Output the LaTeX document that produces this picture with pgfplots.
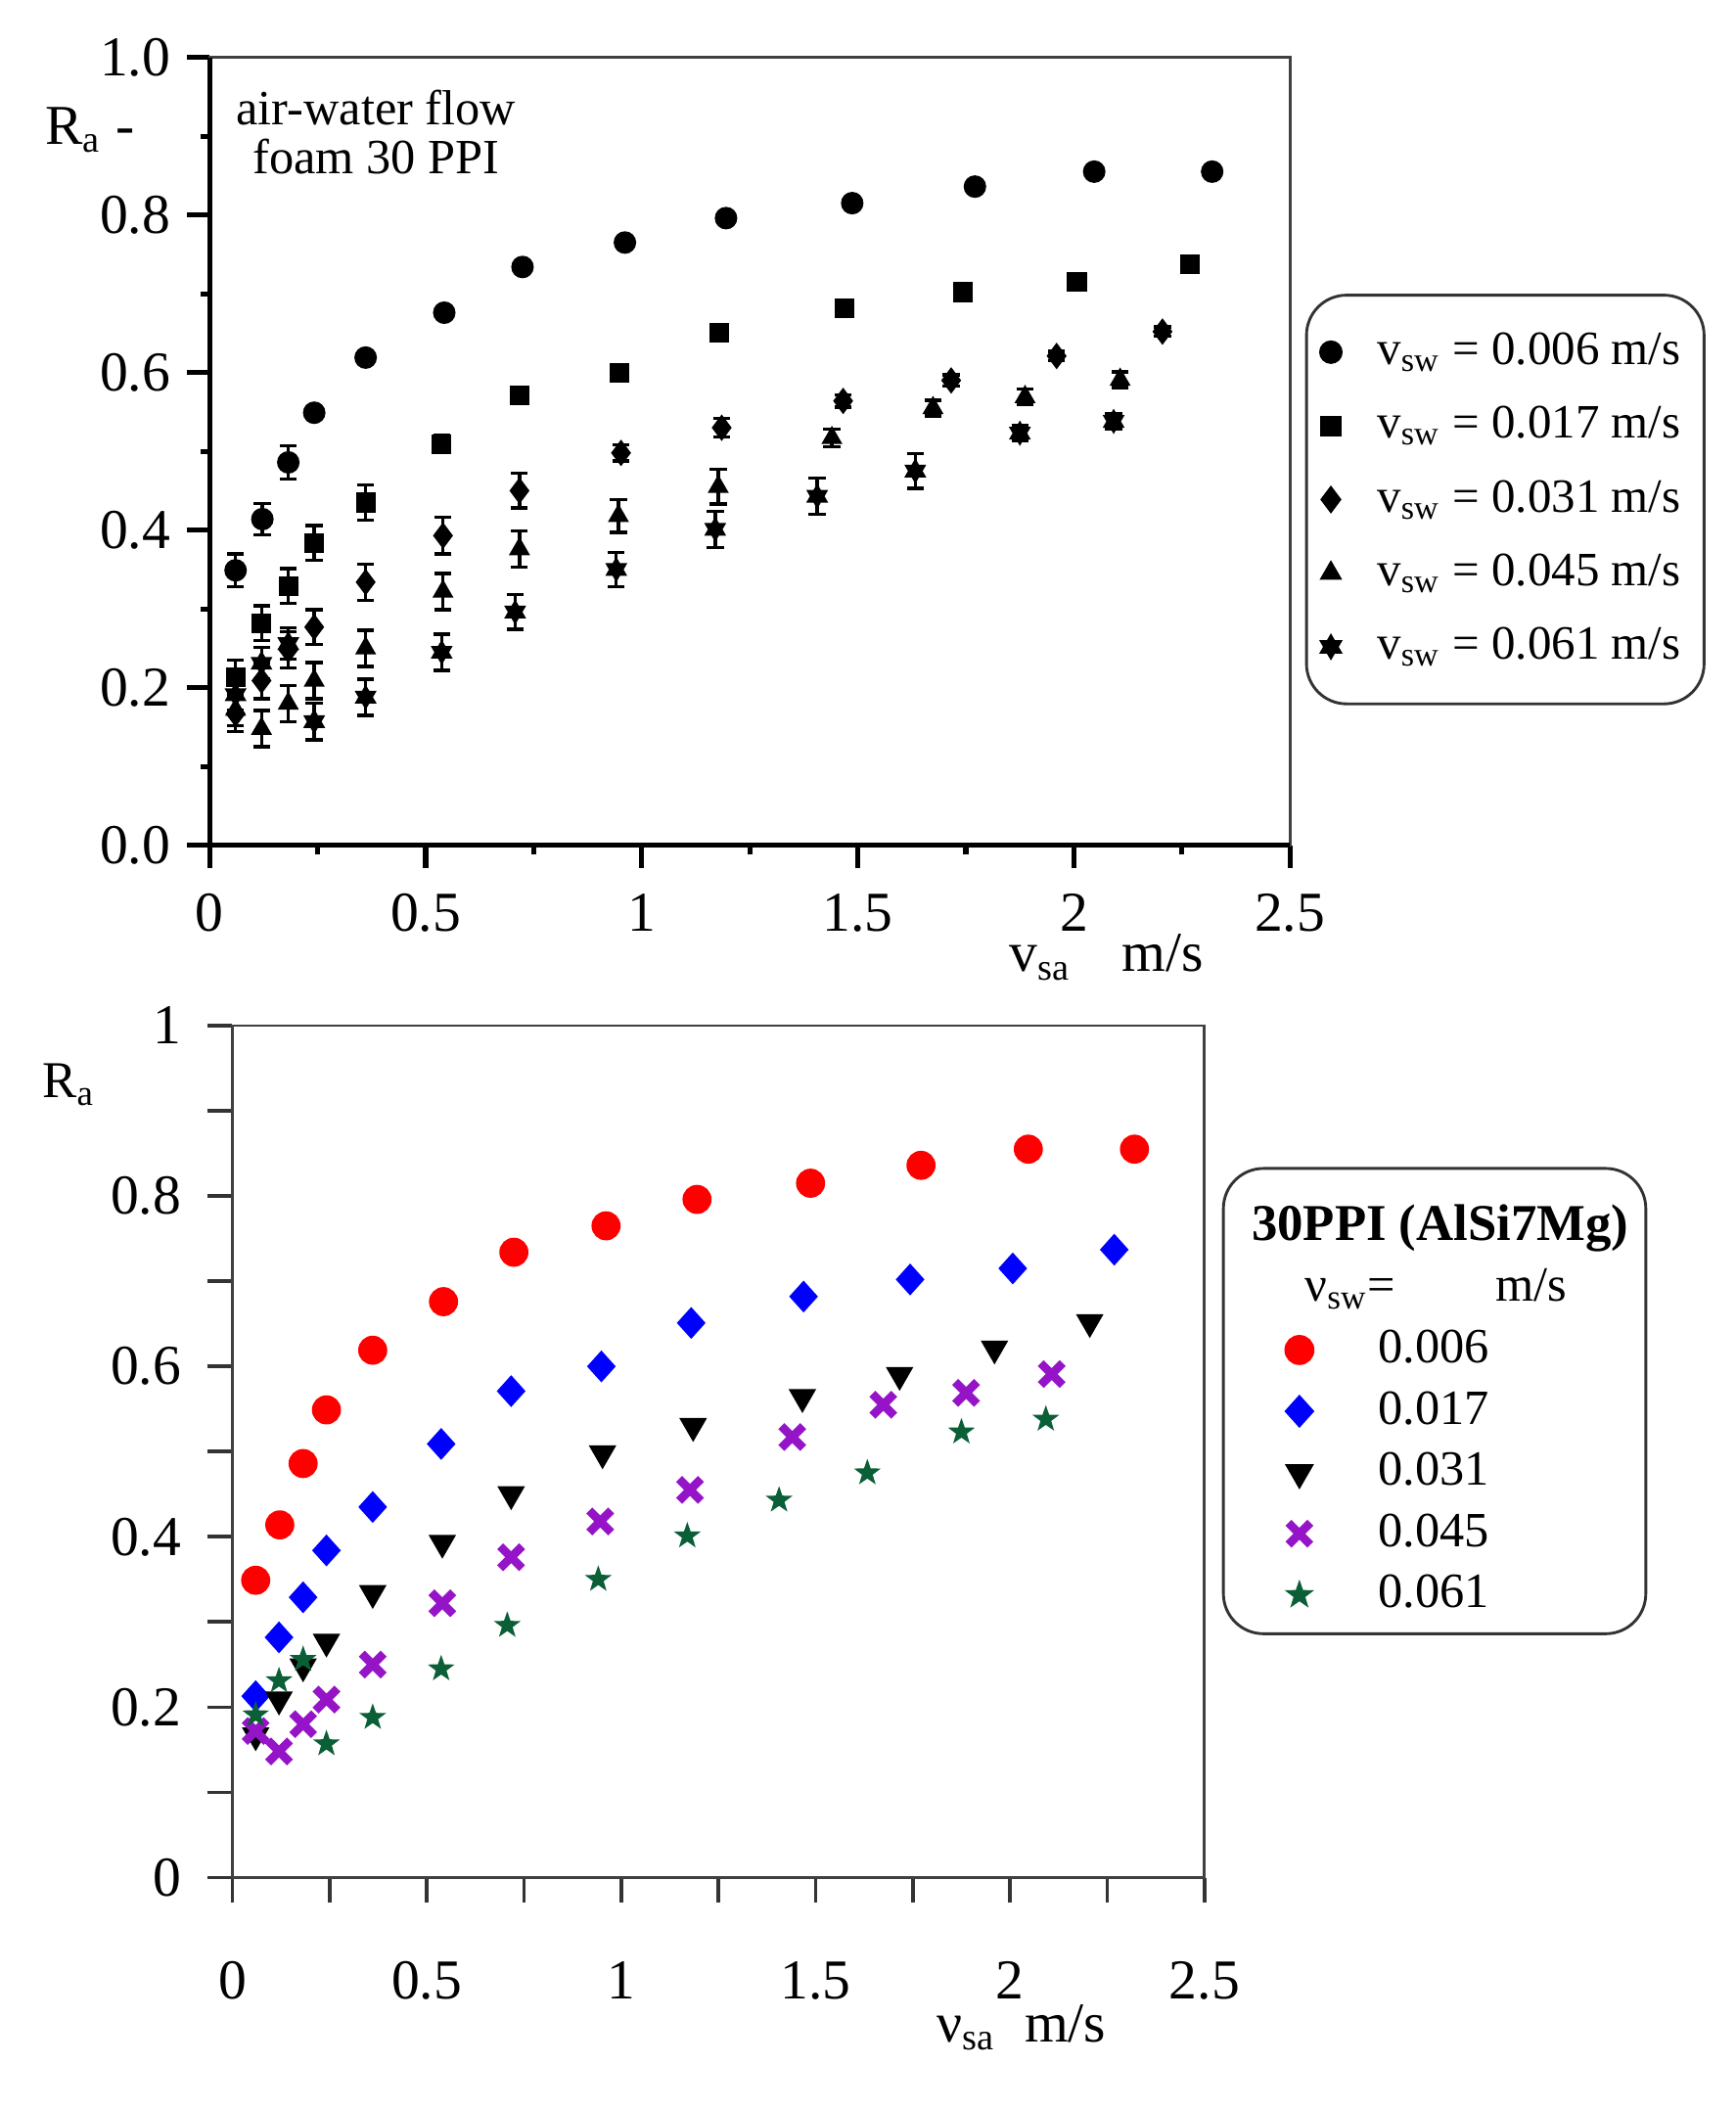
\documentclass[border=0pt]{standalone}
\usepackage{fontspec}
\setmainfont{Liberation Serif}
\usepackage{pgfplots}
\usepackage{pgfplotstable}
\pgfplotsset{compat=1.18}

\definecolor{ptred}{RGB}{255,0,0}
\definecolor{ptblue}{RGB}{0,0,255}
\definecolor{ptpurple}{RGB}{150,20,200}
\definecolor{ptgreen}{RGB}{10,95,55}

% filled six-pointed star (top panel, 0.061)
\pgfdeclareplotmark{hexstar}{%
  \pgfpathmoveto{\pgfpointpolar{90}{\pgfplotmarksize}}%
  \pgfpathlineto{\pgfpointpolar{210}{\pgfplotmarksize}}%
  \pgfpathlineto{\pgfpointpolar{330}{\pgfplotmarksize}}%
  \pgfpathclose
  \pgfpathmoveto{\pgfpointpolar{270}{\pgfplotmarksize}}%
  \pgfpathlineto{\pgfpointpolar{30}{\pgfplotmarksize}}%
  \pgfpathlineto{\pgfpointpolar{150}{\pgfplotmarksize}}%
  \pgfpathclose
  \pgfusepathqfillstroke}
% filled five-pointed star (bottom panel, 0.061)
\pgfdeclareplotmark{fivestar}{%
  \pgfpathmoveto{\pgfpointpolar{90}{\pgfplotmarksize}}%
  \pgfpathlineto{\pgfpointpolar{126}{0.4*\pgfplotmarksize}}%
  \pgfpathlineto{\pgfpointpolar{162}{\pgfplotmarksize}}%
  \pgfpathlineto{\pgfpointpolar{198}{0.4*\pgfplotmarksize}}%
  \pgfpathlineto{\pgfpointpolar{234}{\pgfplotmarksize}}%
  \pgfpathlineto{\pgfpointpolar{270}{0.4*\pgfplotmarksize}}%
  \pgfpathlineto{\pgfpointpolar{306}{\pgfplotmarksize}}%
  \pgfpathlineto{\pgfpointpolar{342}{0.4*\pgfplotmarksize}}%
  \pgfpathlineto{\pgfpointpolar{18}{\pgfplotmarksize}}%
  \pgfpathlineto{\pgfpointpolar{54}{0.4*\pgfplotmarksize}}%
  \pgfpathclose
  \pgfusepathqfillstroke}

% v_sa (m/s), R_a, error
\pgfplotstableread{
x y e
0.060 0.349 0.021
0.122 0.414 0.020
0.182 0.486 0.021
0.242 0.549 0.006
0.361 0.619 0.004
0.543 0.676 0.004
0.724 0.734 0.004
0.961 0.765 0.004
1.195 0.796 0.004
1.487 0.815 0.004
1.771 0.836 0.004
2.047 0.855 0.004
2.320 0.855 0.004
}\sA
\pgfplotstableread{
x y e
0.060 0.213 0.022
0.120 0.282 0.022
0.182 0.329 0.022
0.242 0.384 0.022
0.361 0.435 0.022
0.537 0.509 0.011
0.717 0.571 0.008
0.949 0.600 0.008
1.180 0.651 0.005
1.469 0.682 0.004
1.743 0.702 0.004
2.007 0.715 0.004
2.268 0.737 0.004
}\sB
\pgfplotstableread{
x y e
0.060 0.167 0.023
0.120 0.209 0.023
0.182 0.248 0.023
0.242 0.277 0.022
0.361 0.334 0.023
0.540 0.393 0.023
0.717 0.450 0.022
0.952 0.498 0.010
1.185 0.530 0.012
1.466 0.564 0.008
1.716 0.590 0.007
1.960 0.621 0.006
2.205 0.652 0.006
}\sC
\pgfplotstableread{
x y e
0.060 0.172 0.020
0.120 0.148 0.023
0.182 0.180 0.023
0.242 0.209 0.023
0.361 0.250 0.023
0.540 0.322 0.023
0.717 0.376 0.023
0.946 0.418 0.021
1.177 0.455 0.022
1.440 0.517 0.011
1.674 0.555 0.010
1.887 0.569 0.010
2.107 0.591 0.010
}\sD
\pgfplotstableread{
x y e
0.060 0.191 0.020
0.120 0.231 0.020
0.182 0.256 0.020
0.242 0.157 0.023
0.361 0.188 0.023
0.537 0.245 0.023
0.707 0.296 0.022
0.941 0.350 0.022
1.170 0.401 0.023
1.406 0.443 0.023
1.633 0.475 0.022
1.875 0.523 0.010
2.092 0.538 0.010
}\sE

\pgfplotsset{
  panel/.style={
    scale only axis, anchor=south west, clip=false,
    xmin=0, xmax=2.5, ymin=0, ymax=1,
    xtick={0,0.5,1,1.5,2,2.5}, minor xtick={0.25,0.75,1.25,1.75,2.25},
    ytick={0,0.2,0.4,0.6,0.8,1}, minor ytick={0.1,0.3,0.5,0.7,0.9},
    xtick pos=bottom, ytick pos=left, tick align=outside,
    ticklabel style={font=\fontsize{12}{14}\selectfont, /pgf/number format/assume math mode=true},
    legend cell align=left,
    legend image code/.code={\draw plot coordinates {(0cm,0cm)};},
  },
}

\begin{document}
\begin{tikzpicture}
\path[use as bounding box] (0,0) rectangle (13cm,15.8cm);

% ---------------- top panel ----------------
\begin{axis}[panel,
  at={(1.57cm,9.47cm)}, width=8.09cm, height=5.9cm,
  axis line style={line width=0.6pt, black!75},
  major tick length=0.17cm, minor tick length=0.07cm,
  tick style={line width=1.1pt, black},
  yticklabel style={/pgf/number format/.cd, fixed, fixed zerofill, precision=1},
  xticklabel style={yshift=-2pt},
  xlabel={v\textsubscript{sa}\hspace{0.9em}m/s},
  xlabel style={font=\fontsize{12}{14}\selectfont, at={(axis description cs:0.83,-0.142)}, anchor=center},
  legend style={at={(1.014,0.70)}, anchor=north west, draw=black!80, line width=0.6pt,
    rounded corners=0.3cm, font=\fontsize{10.2}{12}\selectfont, inner xsep=3pt, inner ysep=6pt,
    row sep=0.12cm, /tikz/every odd column/.style={column sep=0.2cm}},
  error bars/y dir=both, error bars/y explicit,
  error bars/error bar style={line width=0.7pt, black},
  error bars/error mark options={rotate=90, mark size=1.8pt, line width=0.7pt, black},
]
\draw[line width=1.1pt] (rel axis cs:0,1) -- (rel axis cs:0,0) -- (rel axis cs:1,0);
\addplot[only marks, mark=*, mark size=2.2pt, black] table[x=x, y=y, y error=e] {\sA};
\addlegendentry{v\textsubscript{sw} = 0.006 m/s}
\addplot[only marks, mark=square*, mark size=1.9pt, black] table[x=x, y=y, y error=e] {\sB};
\addlegendentry{v\textsubscript{sw} = 0.017 m/s}
\addplot[only marks, mark=diamond*, mark size=2.5pt, black] table[x=x, y=y, y error=e] {\sC};
\addlegendentry{v\textsubscript{sw} = 0.031 m/s}
\addplot[only marks, mark=triangle*, mark size=2.2pt, black] table[x=x, y=y, y error=e] {\sD};
\addlegendentry{v\textsubscript{sw} = 0.045 m/s}
\addplot[only marks, mark=hexstar, mark size=2.3pt, black] table[x=x, y=y, y error=e] {\sE};
\addlegendentry{v\textsubscript{sw} = 0.061 m/s}
\node[align=center, font=\fontsize{10.5}{10.5}\selectfont] at (axis cs:0.385,0.905) {air-water flow\\foam 30 PPI};
\node[font=\fontsize{12}{14}\selectfont] at (rel axis cs:-0.111,0.908) {R\textsubscript{a} -};
\end{axis}

% ---------------- bottom panel ----------------
\begin{axis}[panel,
  at={(1.74cm,1.74cm)}, width=7.28cm, height=6.38cm,
  axis line style={line width=0.6pt, black!75},
  major tick length=0.19cm, minor tick length=0.19cm,
  tick style={line width=0.8pt, black!80},
  xticklabel style={yshift=-9pt},
  yticklabel style={xshift=-2pt},
  xlabel={ν\textsubscript{sa}\hspace{0.5em}m/s},
  xlabel style={font=\fontsize{12}{14}\selectfont, at={(axis description cs:0.812,-0.176)}, anchor=center},
  legend style={at={(1.018,0.834)}, anchor=north west, draw=black!80, line width=0.6pt,
    rounded corners=0.3cm, font=\fontsize{10.5}{12}\selectfont, inner xsep=13.3pt, inner ysep=2pt,
    row sep=0.02cm, /tikz/every odd column/.style={column sep=0.42cm}},
]
\addlegendimage{empty legend}
\addlegendentry{\hspace*{-0.95cm}\fontsize{11}{13}\selectfont\rule{0pt}{0.40cm}\textbf{30PPI (AlSi7Mg)}\hspace*{-0.41cm}}
\addlegendimage{empty legend}
\addlegendentry{\hspace*{-0.55cm}ν\textsubscript{sw}=\hspace{0.75cm}m/s\rule[-0.45cm]{0pt}{0.45cm}}
\addplot[only marks, mark=*, mark size=2.9pt, ptred, mark options={fill=ptred}] table[x=x, y=y] {\sA};
\addlegendentry{0.006}
\addplot[only marks, mark=diamond*, mark size=3.1pt, ptblue, mark options={fill=ptblue, xscale=1.2}] table[x=x, y=y] {\sB};
\addlegendentry{0.017}
\addplot[only marks, mark=triangle*, mark size=3pt, black, mark options={rotate=180, fill=black}] table[x=x, y=y] {\sC};
\addlegendentry{0.031}
\addplot[only marks, mark=x, mark size=3.3pt, ptpurple, mark options={line width=1.8pt}] table[x=x, y=y] {\sD};
\addlegendentry{0.045}
\addplot[only marks, mark=fivestar, mark size=2.4pt, ptgreen, mark options={fill=ptgreen}] table[x=x, y=y] {\sE};
\addlegendentry{0.061}
\node[font=\fontsize{11}{13}\selectfont] at (rel axis cs:-0.168,0.931) {R\textsubscript{a}};
\end{axis}
\end{tikzpicture}
\end{document}
